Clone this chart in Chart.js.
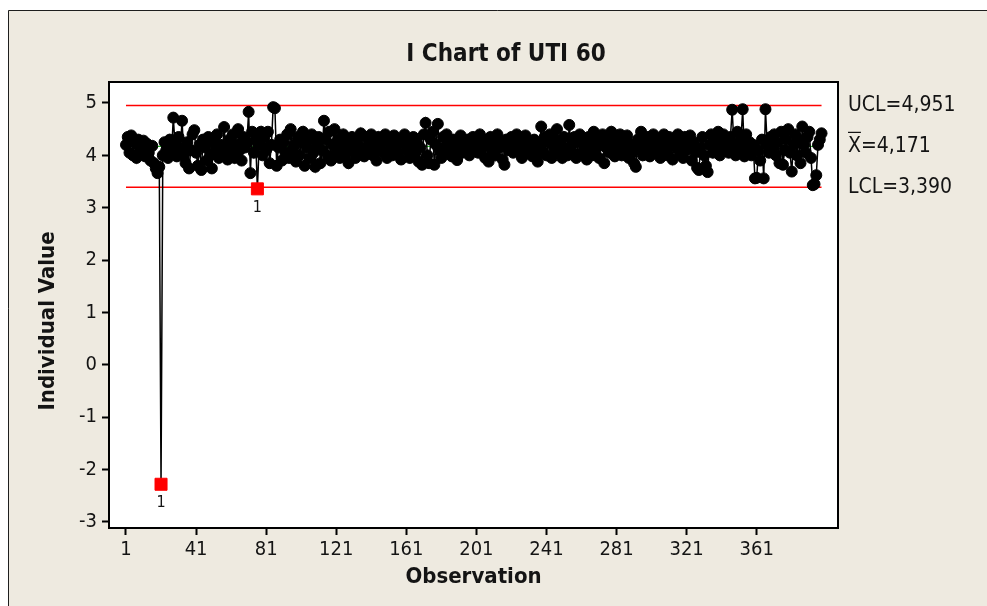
<!DOCTYPE html>
<html>
<head>
<meta charset="utf-8">
<title>I Chart of UTI 60</title>
<script src="https://cdn.jsdelivr.net/npm/chart.js@4.4.1/dist/chart.umd.min.js"></script>
<style>
  html, body { margin: 0; padding: 0; background: #fff; }
  #wrap { position: relative; width: 987px; height: 606px; }
</style>
</head>
<body>
<div id="wrap"><canvas id="iChart" width="987" height="606"></canvas></div>
<script>
const FONT = "'DejaVu Sans Condensed', 'DejaVu Sans', sans-serif";

const chartTitle = 'I Chart of UTI 60';
const xAxisTitle = 'Observation';
const yAxisTitle = 'Individual Value';

// individual values, observation 1..398
const values = [
  4.20, 4.35, 4.05, 4.38, 4.00, 4.25, 3.95, 4.30, 4.15, 4.10, 4.28, 3.98, 4.22, 4.05, 3.90, 4.18, 3.85, 3.75, 3.66, 3.78,
  -2.28, 4.00, 4.25, 4.10, 3.95, 4.30, 4.05, 4.72, 4.20, 3.98, 4.35, 4.15, 4.66, 4.00, 3.85, 4.25, 3.75, 4.10, 4.40, 4.48,
  4.05, 3.80, 4.20, 3.72, 4.30, 4.15, 3.90, 4.35, 4.00, 3.75, 4.25, 4.10, 4.40, 3.95, 4.20, 4.05, 4.54, 4.15, 3.92, 4.30,
  4.05, 4.40, 3.95, 4.20, 4.50, 4.10, 3.90, 4.35, 4.15, 4.25, 4.83, 3.66, 4.45, 4.05, 4.30, 3.36, 4.20, 4.45, 4.00, 4.35,
  4.10, 4.45, 3.85, 4.20, 4.92, 4.90, 3.80, 4.15, 4.30, 3.90, 4.25, 4.05, 4.40, 3.95, 4.50, 4.10, 4.20, 3.88, 4.35, 4.00,
  4.25, 4.45, 3.80, 4.15, 4.30, 3.95, 4.40, 4.05, 3.78, 4.20, 4.35, 3.85, 4.10, 4.66, 4.30, 4.00, 4.45, 3.90, 4.20, 4.50,
  4.05, 4.30, 3.95, 4.15, 4.40, 4.00, 4.25, 3.85, 4.10, 4.35, 4.20, 3.95, 4.30, 4.05, 4.42, 4.15, 3.98, 4.35, 4.10, 4.25,
  4.40, 4.00, 4.20, 3.90, 4.35, 4.10, 4.25, 4.05, 4.40, 3.95, 4.30, 4.15, 4.00, 4.38, 4.20, 4.05, 4.30, 3.92, 4.25, 4.40,
  4.10, 4.30, 3.95, 4.20, 4.35, 4.05, 4.25, 3.88, 4.15, 3.82, 4.40, 4.62, 4.00, 3.85, 4.30, 4.45, 3.82, 4.20, 4.60, 4.10,
  3.95, 4.35, 4.15, 4.40, 4.05, 4.25, 3.98, 4.30, 4.15, 3.91, 4.20, 4.38, 4.05, 4.25, 4.10, 4.30, 4.00, 4.20, 4.35, 4.10,
  4.25, 4.05, 4.40, 4.15, 4.30, 3.95, 4.20, 3.88, 4.35, 4.10, 4.28, 4.00, 4.40, 4.15, 4.25, 3.92, 3.82, 4.30, 4.10, 4.20,
  4.35, 4.05, 4.25, 4.40, 4.10, 4.30, 3.95, 4.20, 4.38, 4.05, 4.25, 4.15, 3.98, 4.30, 4.10, 3.88, 4.20, 4.55, 4.05, 4.35,
  4.00, 4.25, 4.40, 3.95, 4.15, 4.30, 4.50, 4.05, 4.20, 3.95, 4.35, 4.10, 4.00, 4.58, 4.20, 4.05, 4.35, 3.95, 4.25, 4.40,
  4.05, 4.30, 4.15, 3.92, 4.35, 4.20, 4.00, 4.45, 4.10, 4.30, 3.95, 4.25, 4.40, 3.85, 4.15, 4.30, 4.05, 4.45, 4.20, 3.98,
  4.30, 4.10, 4.40, 4.00, 4.25, 4.15, 4.38, 3.95, 4.20, 4.05, 3.85, 3.78, 4.30, 4.15, 4.45, 4.00, 4.25, 4.10, 4.35, 3.98,
  4.20, 4.40, 4.05, 4.30, 4.15, 3.95, 4.25, 4.40, 4.10, 4.00, 4.35, 4.20, 3.92, 4.30, 4.15, 4.40, 4.05, 4.25, 3.95, 4.35,
  4.10, 4.20, 4.38, 3.90, 4.25, 4.05, 3.76, 3.72, 4.15, 4.35, 4.00, 3.80, 3.68, 4.20, 4.40, 4.05, 4.30, 4.15, 4.45, 4.00,
  4.25, 4.40, 4.10, 4.30, 4.05, 4.35, 4.87, 4.20, 4.00, 4.45, 4.15, 4.30, 4.88, 3.98, 4.40, 4.10, 4.25, 4.00, 4.20, 3.56,
  3.57, 4.10, 3.90, 4.30, 3.56, 4.88, 4.20, 4.05, 4.35, 4.15, 4.40, 4.00, 4.25, 3.85, 4.45, 3.82, 4.10, 4.30, 4.50, 4.05,
  3.69, 4.20, 4.40, 4.00, 4.30, 3.85, 4.55, 4.20, 4.05, 4.35, 4.45, 3.95, 3.43, 3.45, 3.62, 4.20, 4.30, 4.42
];

// observations that failed test 1 (drawn as red squares, labelled "1")
const flaggedObs = [21, 76];
const flagLabel = '1';

// control limits
const limitNames = ['UCL', 'X', 'LCL'];
const limitValues = [4.951, 4.171, 3.390];
const limitColors = ['#ff0000', '#00b400', '#ff0000'];

const xTicks = [1, 41, 81, 121, 161, 201, 241, 281, 321, 361];
const yTicks = [-3, -2, -1, 0, 1, 2, 3, 4, 5];

const points = values.map((v, i) => ({ x: i + 1, y: v }));
const isFlagged = ctx => flaggedObs.includes(ctx.dataIndex + 1);

const limitSets = limitValues.map((v, i) => ({
    label: limitNames[i],
    data: [{ x: 1, y: v }, { x: values.length, y: v }],
    borderColor: limitColors[i],
    borderWidth: i === 1 ? 1 : 1.5,
    pointRadius: 0,
    fill: false
}));

const fmt = v => v.toFixed(3).replace('.', ',');

const minitabLook = {
    id: 'minitabLook',
    beforeDraw(chart) {
        const { ctx, chartArea: a } = chart;
        ctx.save();
        ctx.fillStyle = '#ffffff';
        ctx.fillRect(0, 0, chart.width, chart.height);
        ctx.fillStyle = '#eeeae0';
        ctx.fillRect(8, 10, chart.width, chart.height);
        ctx.strokeStyle = '#1e1e1e';
        ctx.lineWidth = 1;
        ctx.beginPath();
        ctx.moveTo(8.5, chart.height);
        ctx.lineTo(8.5, 10.5);
        ctx.lineTo(chart.width, 10.5);
        ctx.stroke();
        ctx.fillStyle = '#ffffff';
        ctx.fillRect(a.left, a.top, a.right - a.left, a.bottom - a.top);
        ctx.restore();
    },
    afterDraw(chart) {
        const { ctx, chartArea: a, scales: { x, y } } = chart;
        ctx.save();
        ctx.strokeStyle = '#000';
        ctx.lineWidth = 2;
        ctx.strokeRect(a.left, a.top, a.right - a.left, a.bottom - a.top);

        ctx.fillStyle = '#141414';
        ctx.textBaseline = 'middle';

        ctx.font = 'bold 24px ' + FONT;
        ctx.textAlign = 'center';
        ctx.fillText(chartTitle, 506, 55);

        // y axis title sits a little below the plot centre, as in Minitab
        ctx.save();
        ctx.translate(48, 321);
        ctx.rotate(-Math.PI / 2);
        ctx.font = 'bold 22px ' + FONT;
        ctx.fillText(yAxisTitle, 0, 0);
        ctx.restore();

        // limit labels on the right
        ctx.font = '21px ' + FONT;
        ctx.textAlign = 'left';
        limitValues.forEach((v, i) => {
            const py = y.getPixelForValue(v);
            const tx = a.right + 10;
            ctx.fillText(limitNames[i] + '=' + fmt(v), tx, py);
            if (limitNames[i] === 'X') {
                const w = ctx.measureText('X').width;
                ctx.lineWidth = 1.2;
                ctx.strokeStyle = '#141414';
                ctx.beginPath();
                ctx.moveTo(tx, py - 14);
                ctx.lineTo(tx + w, py - 14);
                ctx.stroke();
            }
        });

        // test labels under flagged points
        ctx.font = '16px ' + FONT;
        ctx.textAlign = 'center';
        flaggedObs.forEach(o => {
            ctx.fillText(flagLabel, x.getPixelForValue(o), y.getPixelForValue(values[o - 1]) + 19);
        });
        ctx.restore();
    }
};

new Chart(document.getElementById('iChart'), {
    type: 'line',
    data: {
        datasets: [{
            label: yAxisTitle,
            data: points,
            borderColor: '#000',
            borderWidth: 1.5,
            tension: 0,
            pointStyle: c => isFlagged(c) ? 'rect' : 'circle',
            pointRadius: c => isFlagged(c) ? 8.5 : 5.5,
            pointBackgroundColor: c => isFlagged(c) ? '#ff0000' : '#000',
            pointBorderColor: c => isFlagged(c) ? '#ff0000' : '#000',
            pointBorderWidth: 1
        }, ...limitSets]
    },
    options: {
        responsive: false,
        animation: false,
        events: [],
        layout: { padding: { left: 0, top: 82, right: 149, bottom: 0 } },
        plugins: { legend: { display: false }, tooltip: { enabled: false } },
        scales: {
            x: {
                type: 'linear',
                min: -8.7,
                max: 407.4,
                afterBuildTicks: s => { s.ticks = xTicks.map(v => ({ value: v })); },
                afterFit: s => { s.height = 78; },
                border: { display: false },
                grid: { drawOnChartArea: false, drawTicks: true, tickLength: 7, tickWidth: 2, tickColor: '#000' },
                ticks: { color: '#141414', font: { family: FONT, size: 20 }, padding: 3, maxRotation: 0, autoSkip: false },
                title: { display: true, text: xAxisTitle, color: '#141414', font: { family: FONT, size: 22, weight: 'bold' }, padding: { top: 0, bottom: 16 } }
            },
            y: {
                min: -3.115,
                max: 5.40,
                afterBuildTicks: s => { s.ticks = yTicks.map(v => ({ value: v })); },
                afterFit: s => { s.width = 109; },
                border: { display: false },
                grid: { drawOnChartArea: false, drawTicks: true, tickLength: 7, tickWidth: 2, tickColor: '#000' },
                ticks: { color: '#141414', font: { family: FONT, size: 20 }, padding: 5 }
            }
        }
    },
    plugins: [minitabLook]
});
</script>
</body>
</html>
